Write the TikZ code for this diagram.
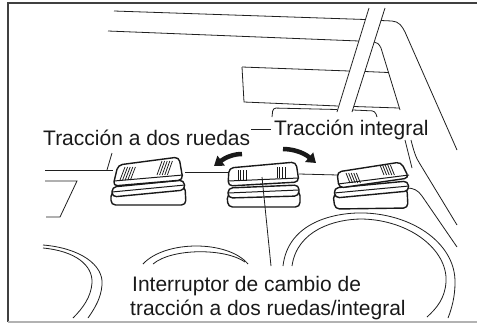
\documentclass[tikz,border=0pt]{standalone}
\usepackage{fontspec}
\setmainfont{Liberation Sans}
\usetikzlibrary{calc,arrows.meta}
\begin{document}
\begin{tikzpicture}[x=1pt,y=-1pt,
  ln/.style={line width=0.8pt, black!88},
  frame/.style={line width=1.2pt, black!75},
  sw/.style={line width=1.4pt, black!90, fill=white, rounded corners=4.5pt, line join=round},
  swline/.style={line width=1.0pt, black!90},
  hatch/.style={line width=0.75pt, black!90},
  lbl/.style={font=\fontsize{21}{24}\selectfont, text=black!90, inner sep=0pt, anchor=base west},
  turn/.style={line width=4.5pt, black!90, -{Triangle[length=9pt,width=12pt]}}]
\useasboundingbox (0,0) rectangle (477,325);

% frame
\draw[frame] (8,322) -- (8,3) -- (477,3);
\draw[line width=1.2pt, black!30] (8,322) -- (477,322);

% upper dashboard lines
\draw[ln] (114,11) -- (365,19.5);
\draw[ln] (381,20.5) -- (392,21) .. controls (399,21.5) and (402,26) .. (405,32) -- (457,150);
\draw[ln] (108,31) -- (359,41);
\draw[ln] (374,42) .. controls (377,42) and (379,44) .. (381,48) -- (400,110);
\draw[ln] (405,140) -- (412,168);
\draw[ln] (411,140) .. controls (414,152) and (416,158) .. (420,164) -- (457,225);

% pillar
\draw[ln] (369,8) -- (337,112);
\draw[ln] (385,8) -- (352,112);

% window panel
\draw[ln] (242,67) -- (349,71);
\draw[ln] (365,71.5) -- (388,72.5);
\draw[ln] (242,67) -- (244,102) -- (338,106);
\draw[ln] (354,106.5) -- (399,108);

% bracket under the panel
\draw[ln, rounded corners=3pt] (272,117) -- (273,108) -- (337,109.5);
\draw[ln, rounded corners=3pt] (353,110) -- (375,111) -- (377,117);

% console edge lines
\draw[ln] (45,170) -- (113,170);
\draw[ln] (112,153) -- (107,170);
\draw[ln] (185,172) -- (228,172);
\draw[ln] (299,174) -- (338,175);
\draw[ln] (45,181) -- (77,181) -- (60,217) -- (46,217);
\draw[ln] (407,188) .. controls (413,188) and (418,190) .. (422,196) -- (457,247);

% gauges
\draw[ln] (43,245) .. controls (80,248) and (104,265) .. (102,285) .. controls (101,298) and (95,308) .. (88,318);
\draw[ln] (43,248) .. controls (75,251) and (93,265) .. (92,283) .. controls (91,297) and (83,308) .. (73,318);
\draw[ln] (143,264) .. controls (165,240) and (228,240) .. (248,264);
\draw[ln] (153,264) .. controls (172,248) and (225,248) .. (245,262);
\draw[ln] (283,266) .. controls (288,222) and (335,212) .. (365,213) .. controls (415,215) and (456,245) .. (455,283) .. controls (455,296) and (452,308) .. (448,318);
\draw[ln] (292,266) .. controls (297,230) and (335,219) .. (362,219) .. controls (410,220) and (448,250) .. (446,282) .. controls (445,298) and (437,308) .. (427,317);

% switch 1
\draw[sw] (111,192) -- (185,186) -- (186,205) -- (111,205) -- cycle;
\draw[sw] (112,187) -- (184,180) -- (185,190) -- (112,197) -- cycle;
\draw[swline] (112,192) -- (185,185);
\draw[sw] (118,165) -- (179,157) -- (183,180) -- (113,186) -- cycle;
\draw[swline] (114,181) -- (183,175);
\foreach \i in {0,...,4} {
  \draw[hatch] (120+2.6*\i,180) -- (125+2.6*\i,167);
  \draw[hatch] (157+2.6*\i,175) -- (162+2.6*\i,161);
}

% switch 2
\draw[sw] (227,194) -- (300,191) -- (300,207) -- (228,207) -- cycle;
\draw[sw] (228,188) -- (299,185) -- (299,196) -- (228,198) -- cycle;
\draw[swline] (228,193) -- (299,190);
\draw[sw] (229,168) -- (296,162) -- (299,182) -- (228,186) -- cycle;
\draw[swline] (228,181) -- (299,178);
\foreach \i in {0,...,3} {
  \draw[hatch] (238+2.8*\i,170) -- (238+2.8*\i,181);
  \draw[hatch] (277+2.8*\i,167) -- (277+2.8*\i,178);
}

% switch 3
\draw[sw] (333,194) -- (407,188) -- (408,208) -- (335,209) -- cycle;
\draw[sw] (334,188) -- (408,181) -- (409,191) -- (335,198) -- cycle;
\draw[swline] (334,193) -- (409,186);
\draw[sw] (337,172) -- (401,162) -- (409,178) -- (339,188) -- cycle;
\draw[swline] (338,184) -- (409,175);
\foreach \i in {0,...,4} {
  \draw[hatch] (346+2.6*\i,173) -- (350+2.6*\i,183);
  \draw[hatch] (380+2.6*\i,165) -- (384+2.6*\i,175);
}

% turning arrows
\draw[turn] (242,154) .. controls (234,154) and (226,157) .. (214,166);
\draw[turn] (283,149) .. controls (292,149) and (303,152) .. (316,163);

% labels
\node[lbl] (tdr) at (43,145) {Tracción a dos ruedas};
\node[lbl] (tint) at (274,135) {Tracción integral};
\node[lbl] (lblA) at (132,291) {Interruptor de cambio de};
\node[lbl] (lblB) at (130,315) {tracción a dos ruedas/integral};
\draw[ln] ($(tdr.base east)+(1,-16)$) -- ($(tint.base west)+(-3,-6)$);

% leader to the middle switch
\coordinate (swpt) at (262,177);
\coordinate (leadend) at (271,266);
\draw[ln] (leadend) -- (swpt);
\end{tikzpicture}
\end{document}
